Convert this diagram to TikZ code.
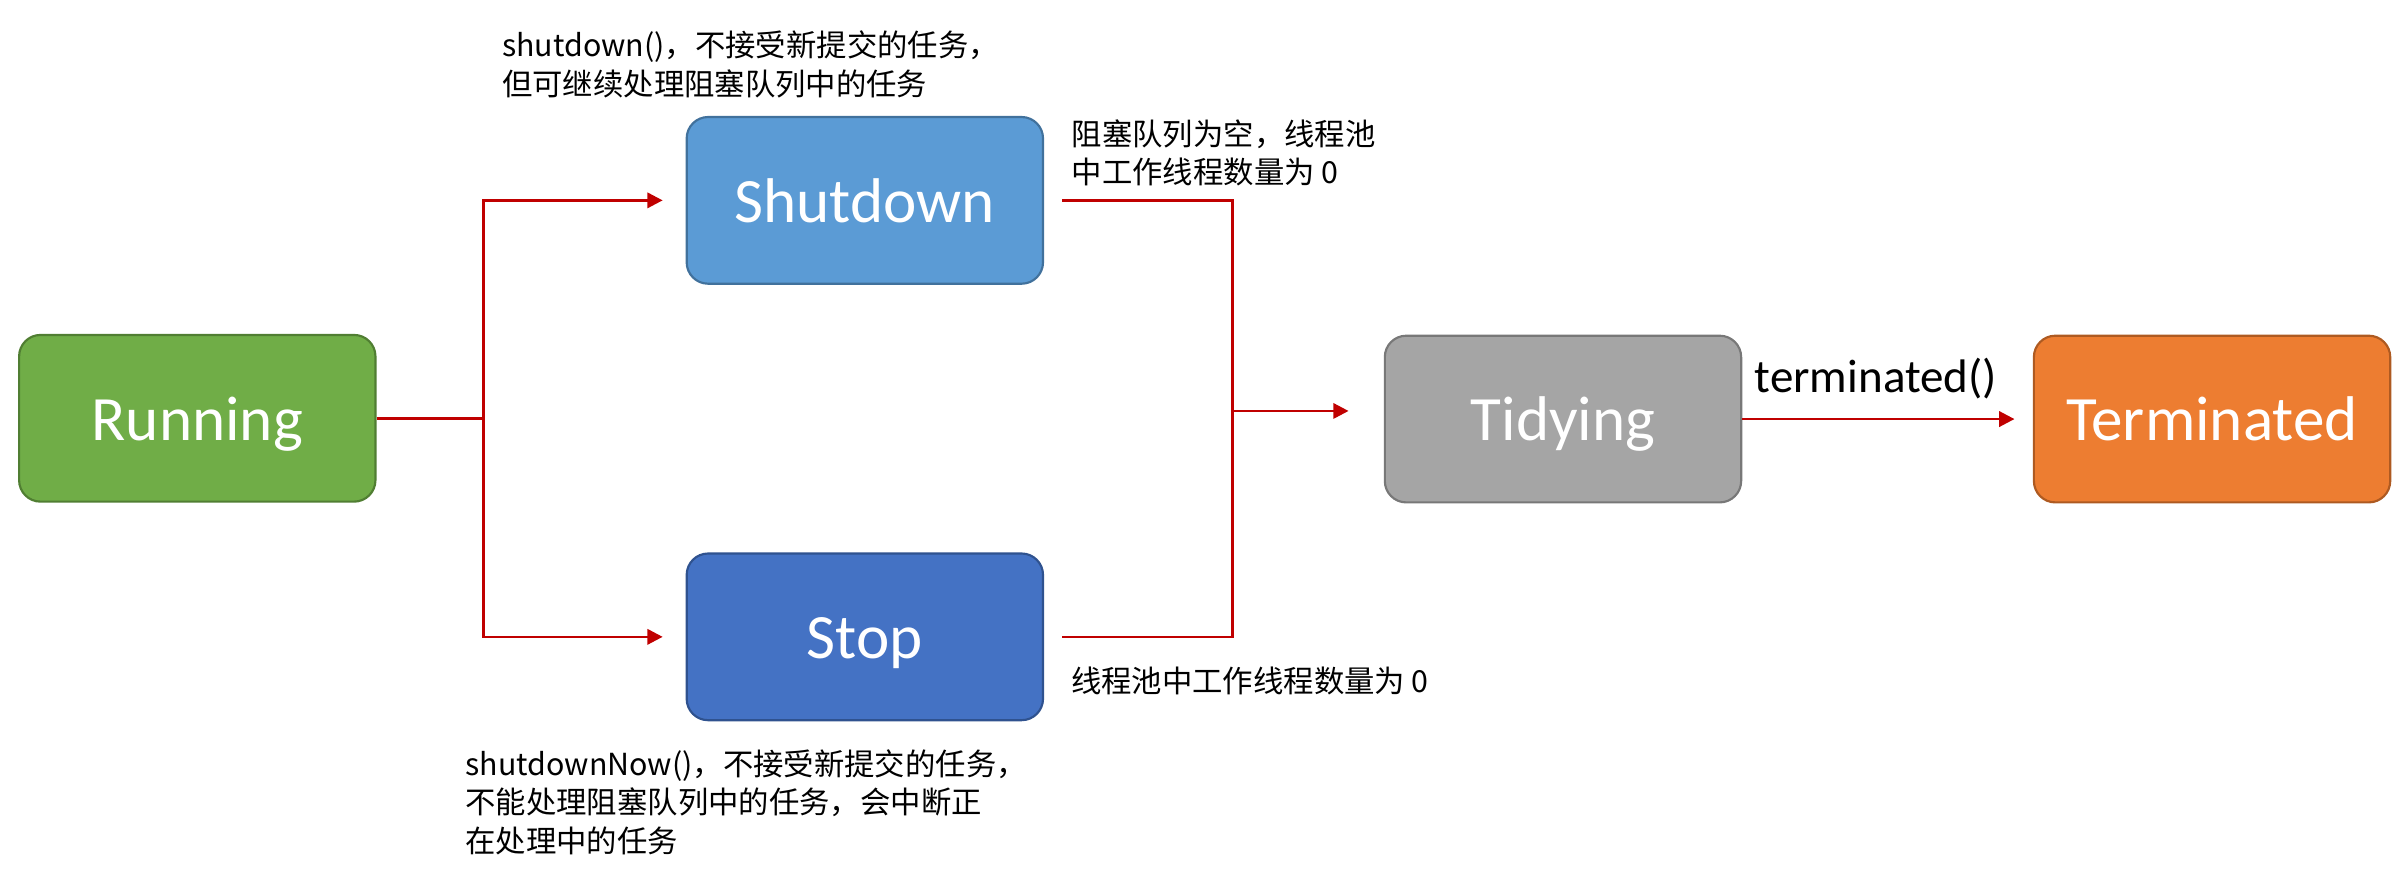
\documentclass[tikz,border=0pt]{standalone}
\usepackage{fontspec}
\setmainfont{Carlito}
\newfontfamily\cjk{Noto Sans CJK SC}
\usepackage{tikz}
\usetikzlibrary{ arrows.meta, calc, positioning }
\definecolor{runGreen}{HTML}{70AD47}
\definecolor{runGreenDark}{HTML}{507E32}
\definecolor{shutBlue}{HTML}{5B9BD5}
\definecolor{shutBlueDark}{HTML}{41719C}
\definecolor{stopBlue}{HTML}{4472C4}
\definecolor{stopBlueDark}{HTML}{2F528F}
\definecolor{tidyGray}{HTML}{A5A5A5}
\definecolor{tidyGrayDark}{HTML}{787878}
\definecolor{termOrange}{HTML}{ED7D31}
\definecolor{termOrangeDark}{HTML}{AE5A21}
\definecolor{flowRed}{HTML}{C00000}
\tikzset{
>={Triangle[length=2mm,width=2mm]}, % small filled heads
node distance=1cm, % default gap between nodes
poolstate/.style={draw, line width=0.8pt, rounded corners=2.8mm, minimum width=46.6mm, minimum height=21.8mm, text=white, text height=16.2pt, text depth=0pt, font=\fontsize{23.5}{28}\selectfont}, % the coloured state boxes
note/.style={font=\cjk\fontsize{11.3}{14.2}\selectfont, align=left, inner sep=0pt, anchor=north west}, % the remarks
flow/.style={draw=flowRed, line width=1pt}, % red connectors
}

\begin{document}
\begin{tikzpicture}[x=0.2mm, y=-0.2mm]%one unit is one pixel of the sketch
  \useasboundingbox (0,0) rectangle (1568,573.6);

  \node[poolstate, fill=runGreen, draw=runGreenDark] (running) at (129,273.5) {Running};
  \node[poolstate, fill=shutBlue, draw=shutBlueDark] (shutdown) at (565.5,131) {Shutdown};
  \node[poolstate, fill=stopBlue, draw=stopBlueDark, below=35mm of shutdown] (stop) {Stop};
  \node[poolstate, fill=tidyGray, draw=tidyGrayDark] (tidying) at (1022,274) {Tidying};
  \node[poolstate, fill=termOrange, draw=termOrangeDark, right=38mm of tidying] (terminated) {Terminated};

  \coordinate (fork) at ($(running.east)+(70,0)$);
  \coordinate (merge) at ($(shutdown.east)!0.5!(stop.east)+(123,-5)$);

  \draw[flow] (running) -- (fork);
  \draw[flow, ->, shorten >=3mm] (fork) |- (shutdown);
  \draw[flow, ->, shorten >=3mm] (fork) |- (stop);
  \draw[flow, shorten <=2.4mm] (shutdown) -| (merge);
  \draw[flow, shorten <=2.4mm] (stop) -| (merge);
  \draw[flow, ->, shorten >=4.6mm] (merge) -- (merge -| tidying.west);
  \draw[flow, ->, shorten >=2.4mm] (tidying) -- node[pos=0.46, above=2.5mm, inner sep=0pt, font=\fontsize{17.5}{20}\selectfont]{terminated()} (terminated);

  \node[note] (shutnote) at (328,20) {shutdown()，不接受新提交的任务，\\但可继续处理阻塞队列中的任务};
  \node[note] (emptynote) at (700.5,78) {阻塞队列为空，线程池\\中工作线程数量为 0};
  \node[note] (zeronote) at (700,436) {线程池中工作线程数量为 0};
  \node[note] (nownote) at (304,490) {shutdownNow()，不接受新提交的任务，\\不能处理阻塞队列中的任务，会中断正\\在处理中的任务};
\end{tikzpicture}
\end{document}
